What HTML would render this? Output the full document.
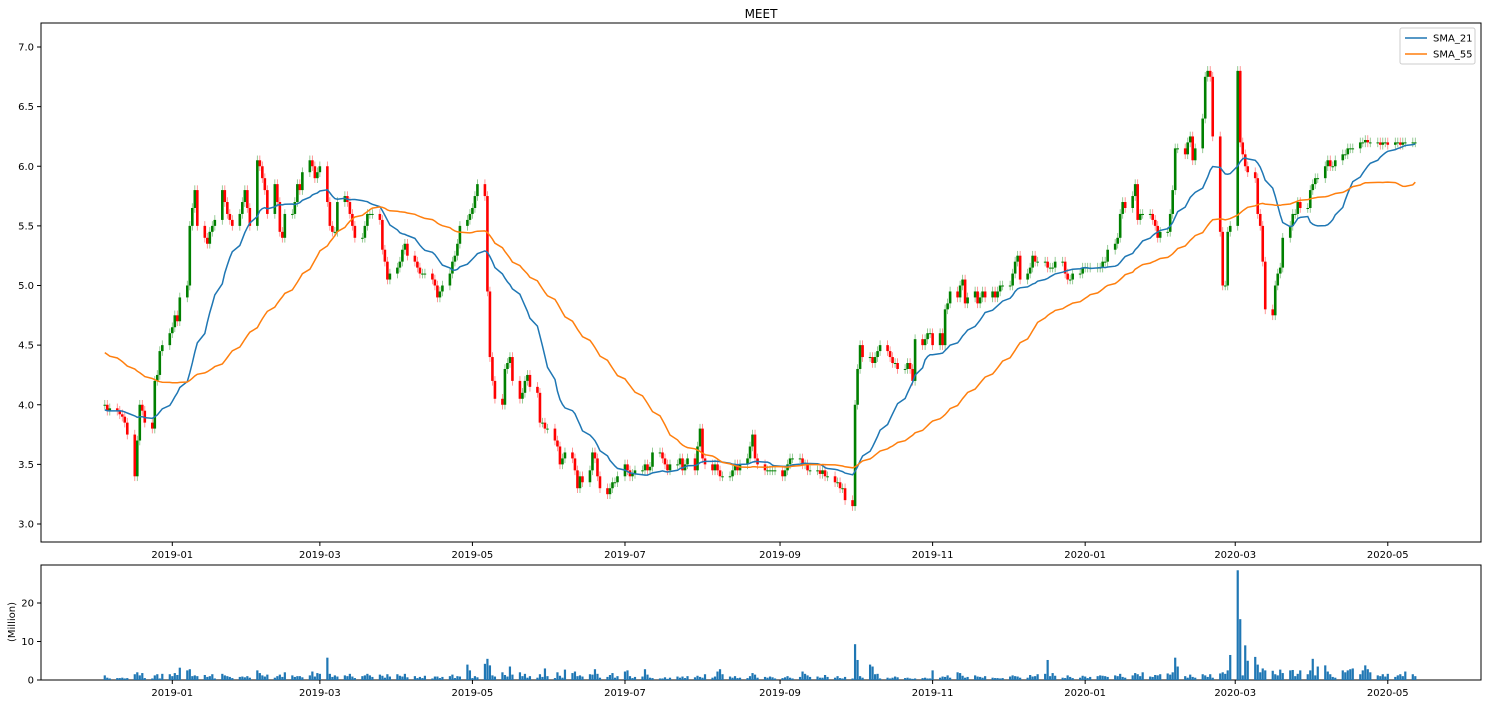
<!DOCTYPE html>
<html><head><meta charset="utf-8"><style>
body{margin:0;background:#fff;}
svg{display:block;font-family:"DejaVu Sans","Liberation Sans",sans-serif;}
</style></head><body>
<svg id="chart" width="1488" height="704">
<rect width="1488" height="704" fill="#fff"/>
<text x="761" y="18" font-size="12" text-anchor="middle">MEET</text>
<g id="main"></g>
<g id="vol"></g>
<g>
<rect x="1400" y="28" width="75" height="36" rx="2" fill="#fff" stroke="#ccc" stroke-width="1"/>
<line x1="1405" y1="38" x2="1427" y2="38" stroke="#1f77b4" stroke-width="1.5"/>
<text x="1433" y="41.5" font-size="10">SMA_21</text>
<line x1="1405" y1="54" x2="1427" y2="54" stroke="#ff7f0e" stroke-width="1.5"/>
<text x="1433" y="57.5" font-size="10">SMA_55</text>
</g>
<text transform="translate(15,622) rotate(-90)" font-size="10" text-anchor="middle">(Million)</text>
</svg>
<script>
const history = [4.8,4.8,4.75,4.7,4.8,4.85,4.8,4.75,4.7,4.75,4.8,4.75,4.7,4.75,4.8,4.8,4.75,4.7,4.75,4.8,4.7,4.75,4.8,4.75,4.7,4.75,4.7,4.75,4.8,4.7,4.75,4.7,4.6,
4.2,4.1,4.0,3.95,3.9,3.95,4.0,3.95,3.9,3.95,3.9,3.95,4.0,3.95,3.9,3.95,3.9,3.95,4.0,3.95,3.95];
const closes = [4.0,3.95,3.97,
3.95,3.92,3.9,3.85,3.75, 3.4,3.7,4.0,3.95,3.85, 3.8,4.2,4.25,4.45,4.5, 4.6,4.65,4.75,4.7,4.9,
5.0,5.5,5.65,5.8,5.5, 5.4,5.35,5.45,5.5,5.55, 5.8,5.7,5.6,5.55,5.5, 5.6,5.7,5.8,5.65,5.5,
6.05,6.0,5.9,5.8,5.6, 5.85,5.7,5.45,5.4,5.6, 5.6,5.7,5.85,5.8,5.95, 6.05,6.0,5.9,5.95,6.0,
5.7,5.5,5.45,5.45,5.7, 5.75,5.7,5.6,5.5,5.4, 5.4,5.5,5.6,5.6,5.6, 5.55,5.3,5.2,5.05,5.1,
5.15,5.2,5.3,5.35,5.25, 5.2,5.15,5.1,5.1,5.1, 5.05,5.0,4.9,4.95,5.0, 5.1,5.2,5.25,5.35,5.5,
5.55,5.6,5.65,5.75,5.85, 5.75,4.95,4.4,4.2,4.05, 4.0,4.3,4.35,4.4,4.2, 4.05,4.1,4.2,4.25,4.15,
4.1,3.85,3.85,3.8,3.8, 3.7,3.65,3.5,3.55,3.6, 3.55,3.45,3.3,3.4,3.35, 3.45,3.6,3.55,3.4,3.3,
3.25,3.3,3.35,3.35,3.4, 3.5,3.45,3.4,3.42,3.45, 3.45,3.5,3.45,3.48,3.6, 3.6,3.55,3.5,3.45,3.5,
3.5,3.55,3.45,3.5,3.55, 3.45,3.65,3.8,3.55,3.5, 3.45,3.5,3.45,3.4,3.4, 3.4,3.45,3.5,3.45,3.5,
3.55,3.65,3.75,3.55,3.5, 3.45,3.45,3.45,3.45,3.45, 3.4,3.45,3.5,3.55,3.55, 3.55,3.5,3.5,3.45,3.45,
3.45,3.42,3.45,3.4,3.4, 3.35,3.35,3.3,3.3,3.2, 3.15,4.0,4.3,4.5,4.4, 4.4,4.35,4.4,4.45,4.5,
4.45,4.4,4.35,4.35,4.3, 4.3,4.35,4.3,4.2,4.55, 4.5,4.55,4.6,4.6,4.5, 4.6,4.5,4.8,4.85,4.95,
4.9,5.0,5.05,4.85,4.9, 4.95,4.85,4.9,4.95,4.9, 4.95,4.9,4.95,5.0,5.0, 5.0,5.1,5.2,5.25,5.05,
5.1,5.15,5.25,5.2,5.2, 5.2,5.15,5.15,5.15,5.2, 5.2,5.1,5.05,5.05,5.1, 5.1,5.15,5.15,5.15,5.15,
5.15,5.15,5.2,5.2,5.3, 5.35,5.4,5.6,5.7,5.65, 5.75,5.85,5.55,5.6,5.6, 5.6,5.55,5.5,5.4,5.45,
5.45,5.6,5.8,6.15,6.15, 6.1,6.2,6.25,6.05,6.15, 6.4,6.75,6.8,6.75,6.25, 5.45,5.0,5.0,5.45,5.5,
6.8,6.2,6.1,6.0,5.95, 5.9,5.6,5.5,5.2,4.8, 4.75,5.0,5.1,5.15,5.4, 5.5,5.6,5.6,5.7,5.65,
5.65,5.8,5.85,5.9,5.9, 6.0,6.05,6.0,6.0,6.05, 6.1,6.1,6.15,6.15,6.15, 6.2,6.2,6.22,6.2,6.2,
6.2,6.18,6.2,6.2,6.18, 6.2,6.2,6.18,6.2,6.2, 6.2,6.2];
const volumes = [1.2,0.6,0.4,
0.5,0.5,0.6,0.4,0.5, 1.5,2.0,1.2,1.8,0.5, 0.4,1.2,1.5,0.4,1.6, 1.5,1.0,1.8,1.3,3.2,
2.5,2.8,1.0,1.2,1.0, 1.3,0.8,1.0,1.5,0.4, 1.6,1.2,1.0,0.8,0.5, 0.8,0.9,0.7,1.0,0.6,
2.5,1.8,1.2,0.9,1.4, 0.6,1.0,1.4,0.8,2.0, 1.2,0.8,1.0,1.0,0.7, 1.2,2.2,0.9,1.8,1.6,
5.8,1.6,0.8,1.2,0.9, 1.2,1.0,1.6,0.9,0.5, 1.0,1.2,1.6,1.2,0.8, 1.4,1.1,0.6,1.5,0.9,
1.5,1.1,0.9,1.6,0.7, 1.0,0.5,0.8,0.5,1.1, 0.4,0.9,0.9,0.5,0.8, 1.0,1.4,0.5,1.0,0.9,
4.0,2.5,0.5,1.0,0.7, 4.2,5.5,3.8,1.2,0.9, 2.0,1.3,0.9,3.5,1.4, 2.0,1.0,1.6,0.6,1.0,
0.6,1.5,0.8,3.0,1.0, 0.5,2.0,1.1,0.6,2.7, 1.8,2.2,1.0,1.2,0.9, 1.5,1.4,2.8,1.6,0.6,
0.8,1.3,1.8,0.6,1.0, 2.2,2.5,1.0,0.5,0.8, 0.9,2.8,1.4,0.6,0.5, 0.4,0.4,0.7,0.3,0.6,
0.9,0.6,0.9,0.5,1.0, 0.7,1.1,0.8,0.6,1.5, 0.6,0.9,2.2,2.8,1.5, 0.9,0.6,1.0,0.5,0.6,
0.5,1.0,1.8,1.4,0.6, 0.8,0.6,0.9,0.7,0.4, 0.5,0.7,1.0,0.6,0.4, 0.8,2.2,1.6,1.2,0.8,
0.9,0.6,0.6,1.3,0.8, 0.6,1.0,0.5,0.4,0.8, 0.4,9.3,5.2,1.0,0.6, 4.0,3.5,1.5,1.6,0.4,
0.6,0.4,0.6,0.9,0.7, 0.5,0.6,0.4,0.3,0.4, 0.5,0.6,0.4,0.4,2.5, 0.6,0.9,0.8,1.2,0.6,
2.0,1.8,1.1,0.6,0.8, 1.2,0.9,0.8,0.6,1.0, 0.6,0.5,0.5,0.4,0.5, 0.9,1.2,1.0,0.9,0.6,
0.6,1.3,0.9,1.0,1.5, 1.6,5.2,1.0,1.8,1.1, 0.6,0.5,1.2,0.8,0.5, 0.6,1.1,0.9,0.5,0.8,
1.0,1.2,1.1,1.0,0.8, 1.2,1.0,1.6,0.8,0.6, 1.2,1.8,1.5,1.0,2.0, 0.9,0.8,1.3,1.2,1.5,
1.7,1.4,2.0,5.8,3.5, 1.0,0.6,1.4,0.8,0.6, 1.5,1.2,0.8,1.5,0.6, 1.7,2.0,1.6,2.5,6.5,
28.5,15.8,1.2,9.0,5.0, 6.0,4.0,2.0,3.0,2.5, 2.4,1.5,1.2,2.7,1.8, 2.5,2.6,1.0,1.6,2.5,
1.5,2.5,5.5,1.2,3.5, 3.8,2.2,1.5,0.8,0.6, 2.5,2.0,2.5,2.8,3.0, 1.5,2.5,3.8,2.8,2.0,
1.2,1.0,1.5,0.9,1.6, 0.8,1.2,1.5,1.0,2.2, 1.5,1.0];
const priceTicks = [3.0,3.5,4.0,4.5,5.0,5.5,6.0,6.5,7.0];
const volTicks = [0,10,20];
const dateTicks = ['2019-01','2019-03','2019-05','2019-07','2019-09','2019-11','2020-01','2020-03','2020-05'];

const NS='http://www.w3.org/2000/svg';
const main=document.getElementById('main'), vol=document.getElementById('vol');
const X0=Date.UTC(2019,0,1);
function xS(t){return 172.3+2.501*(t-X0)/86400000;}
function yP(v){return 47+(7-v)*119.25;}
function yV(v){return 680-v*3.85;}
function mk(tag,attrs,parent){const e=document.createElementNS(NS,tag);for(const k in attrs)e.setAttribute(k,attrs[k]);parent.appendChild(e);return e;}

// dates (weekdays from 2018-12-05)
const dates=[];let d=Date.UTC(2018,11,5);
while(dates.length<closes.length){const wd=new Date(d).getUTCDay();if(wd!==0&&wd!==6)dates.push(d);d+=86400000;}

// frames
const f1=mk('rect',{x:41,y:23,width:1440,height:519,fill:'none',stroke:'#000','stroke-width':1},main);


const f2=mk('rect',{x:41,y:565,width:1440,height:115,fill:'none',stroke:'#000','stroke-width':1},vol);



priceTicks.forEach(v=>{const y=yP(v);
 mk('line',{x1:37,y1:y,x2:41,y2:y,stroke:'#000'},main);
 const t=mk('text',{x:34,y:y+3.5,'font-size':10,'text-anchor':'end'},main);t.textContent=v.toFixed(1);
 
 });
volTicks.forEach(v=>{const y=yV(v);
 mk('line',{x1:37,y1:y,x2:41,y2:y,stroke:'#000'},vol);
 const t=mk('text',{x:34,y:y+3.5,'font-size':10,'text-anchor':'end'},vol);t.textContent=v;
 
 });
dateTicks.forEach(s=>{const [yy,mm]=s.split('-').map(Number);const x=xS(Date.UTC(yy,mm-1,1));
 [[542,546,558],[680,684,696]].forEach(([a,b,ty],i)=>{
  mk('line',{x1:x,y1:a,x2:x,y2:b,stroke:'#000'},i?vol:main);
  const t=mk('text',{x:x,y:ty,'font-size':10,'text-anchor':'middle'},i?vol:main);t.textContent=s;
  
  });});

// candles
const cg=mk('g',{},main);
closes.forEach((c,i)=>{
 const o=i?closes[i-1]:c;const x=xS(dates[i]);
 const col=c>=o?'#008000':'#ff0000';
 const hi=Math.max(o,c)+0.04,lo=Math.min(o,c)-0.04;
 const w=mk('line',{x1:x,y1:yP(hi),x2:x,y2:yP(lo),stroke:col,'stroke-opacity':0.5,'stroke-width':0.8},cg);
 
 
 const top=yP(Math.max(o,c)),h=Math.max(1,yP(Math.min(o,c))-top);
 const b=mk('rect',{x:x-1.3,y:top,width:2.6,height:h,fill:col},cg);
 
 });

// SMA lines
function sma(n){const all=history.concat(closes);const off=history.length;
 return closes.map((_,i)=>{const j=i+off;const s=all.slice(Math.max(0,j-n+1),j+1);return s.reduce((a,b)=>a+b,0)/s.length;});}
[[21,'#1f77b4','sma-21-line'],[55,'#ff7f0e','sma-55-line']].forEach(([n,col,name])=>{
 const v=sma(n);const p=mk('path',{d:v.map((y,i)=>(i?'L':'M')+xS(dates[i]).toFixed(1)+','+yP(y).toFixed(1)).join(''),fill:'none',stroke:col,'stroke-width':1.5},main);
 
 });

// volume bars
volumes.forEach((v,i)=>{const x=xS(dates[i]);
 const r=mk('rect',{x:x-1.1,y:yV(v),width:2.2,height:v*3.85,fill:'#1f77b4'},vol);
 
 });
</script>
</body></html>
